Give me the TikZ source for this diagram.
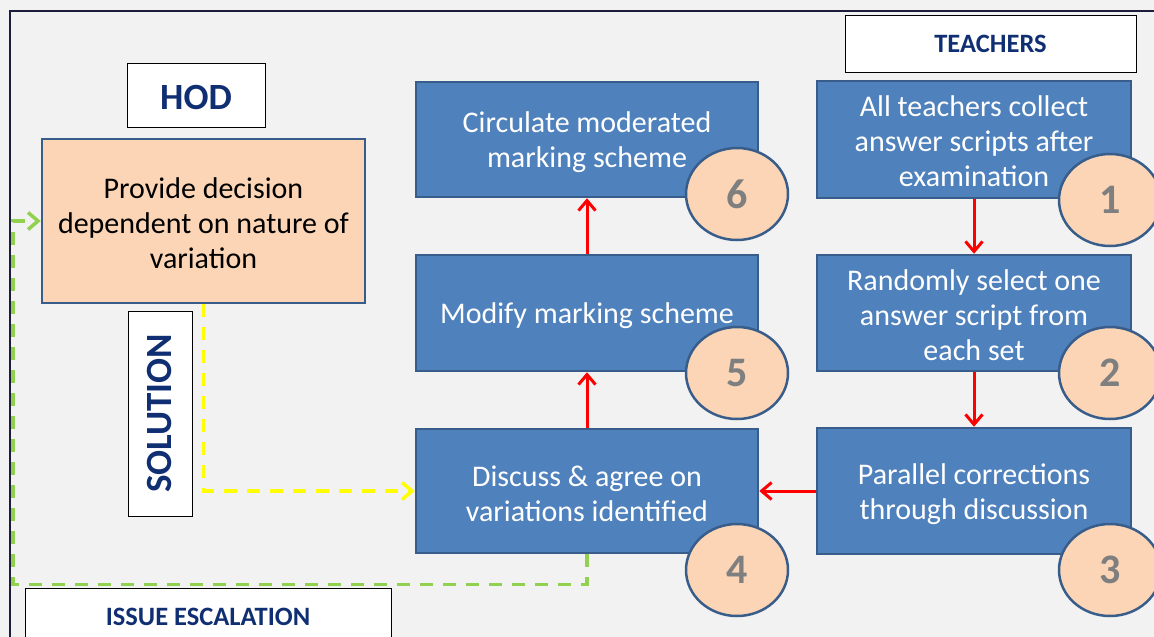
\documentclass[tikz,border=0pt]{standalone}
\usepackage{fontspec}
\setmainfont{Carlito}
\usetikzlibrary{arrows.meta,shapes.geometric}
\definecolor{bgc}{HTML}{F2F2F2}
\definecolor{boxblue}{HTML}{4F81BD}
\definecolor{boxedge}{HTML}{385D8A}
\definecolor{peach}{HTML}{FBD5B5}
\definecolor{navy}{HTML}{102F73}
\definecolor{numgray}{HTML}{7F7F7F}
\definecolor{ydash}{HTML}{FFFF00}
\definecolor{gdash}{HTML}{92D050}
\definecolor{framec}{HTML}{1C1C3C}
\tikzset{
  stepbox/.style={draw=boxedge, line width=2.5pt, fill=boxblue, inner sep=0pt},
  steptext/.style={text=white, inner sep=0pt, align=center, font=\fontsize{30}{35}\selectfont},
  numcirc/.style={ellipse, draw=boxedge, line width=2.5pt, fill=peach, text=numgray,
    minimum width=102pt, minimum height=92pt, inner sep=0pt,
    font=\fontsize{42}{42}\selectfont\bfseries},
  tagbox/.style={draw=black, line width=1pt, fill=white, text=navy, inner sep=0pt,
    font=\fontsize{26.5}{30}\selectfont\bfseries},
  barb/.style={-{Straight Barb[length=10pt,width=17pt]}},
  redarrow/.style={draw=red, line width=3pt, barb},
  yline/.style={draw=ydash, line width=3.5pt, dash pattern=on 13pt off 10pt, barb},
  gline/.style={draw=gdash, line width=3.5pt, dash pattern=on 13pt off 10pt, barb},
}
\begin{document}
\begin{tikzpicture}[x=1pt,y=-1pt]
\useasboundingbox (0,0) rectangle (1154,637);
\clip (0,0) rectangle (1154,637);
\fill[bgc] (0,0) rectangle (1154,637);
\draw[framec, line width=1.5pt] (10,650) -- (10,11) -- (1160,11);

% labels
\node[tagbox, minimum width=291pt, minimum height=57pt] (teach) at (990.5,43.5) {TEACHERS};
\node[tagbox, minimum width=138pt, minimum height=64pt] (hod) at (196,95) {};
\node[text=navy, inner sep=0pt, font=\fontsize{37}{40}\selectfont\bfseries] (hodt) at ([yshift=-2pt]hod.center) {HOD};
\node[tagbox, minimum width=366pt, minimum height=56pt, anchor=north] (issue) at (208,588) {ISSUE ESCALATION};
\node[tagbox, minimum width=64pt, minimum height=205pt] (solbox) at (160,413.5) {};
\node[text=navy, font=\fontsize{37}{40}\selectfont\bfseries, rotate=90, inner sep=0pt] (sol) at (solbox.center) {SOLUTION};

% peach box
\node[draw=boxedge, line width=2.5pt, fill=peach, inner sep=0pt,
  minimum width=323pt, minimum height=164pt] (peachbox) at (203.5,221) {};
\node[text=black, inner sep=0pt, align=center, font=\fontsize{30}{35}\selectfont] (peacht)
  at ([yshift=-2pt]peachbox.center) {Provide decision\\dependent on nature of\\variation};

% step boxes
\node[stepbox, minimum width=342pt, minimum height=115pt] (b6) at (587,139.5) {};
\node[stepbox, minimum width=314pt, minimum height=117pt] (b1) at (974,139.5) {};
\node[stepbox, minimum width=342pt, minimum height=116pt] (b5) at (587,313) {};
\node[stepbox, minimum width=314pt, minimum height=116pt] (b2) at (974,313) {};
\node[stepbox, minimum width=342pt, minimum height=124pt] (b4) at (587,491) {};
\node[stepbox, minimum width=314pt, minimum height=126pt] (b3) at (974,491) {};

\node[steptext] (t6) at ([yshift=-3pt]b6.center) {Circulate moderated\\marking scheme};
\node[steptext] (t1) at ([yshift=-2pt]b1.center) {All teachers collect\\answer scripts after\\examination};
\node[steptext] (t5) at ([yshift=-3pt]b5.center) {Modify marking scheme};
\node[steptext] (t2) at ([yshift=-2pt]b2.center) {Randomly select one\\answer script from\\each set};
\node[steptext] (t4) at ([yshift=-3pt]b4.center) {Discuss \& agree on\\variations identified};
\node[steptext] (t3) at ([yshift=-3pt]b3.center) {Parallel corrections\\through discussion};

% number circles
\node[numcirc] (c6) at (737,194) {6};
\node[numcirc] (c1) at (1110,200) {1};
\node[numcirc] (c5) at (737,373) {5};
\node[numcirc] (c2) at (1110,373) {2};
\node[numcirc] (c4) at (737,570) {4};
\node[numcirc] (c3) at (1110,570) {3};

% red arrows
\draw[redarrow] (b1.south) -- (b2.north);
\draw[redarrow] (b2.south) -- (b3.north);
\draw[redarrow] (b3.west) -- (b4.east);
\draw[redarrow] (b4.north) -- (b5.south);
\draw[redarrow] (b5.north) -- (b6.south);

% dashed connectors
\draw[yline] (peachbox.south) |- (b4.west);
\coordinate (gcorner) at (13,221);
\draw[gline] (b4.south) -- ++(0,30) -| (gcorner) -- (peachbox.west);
\end{tikzpicture}
\end{document}
